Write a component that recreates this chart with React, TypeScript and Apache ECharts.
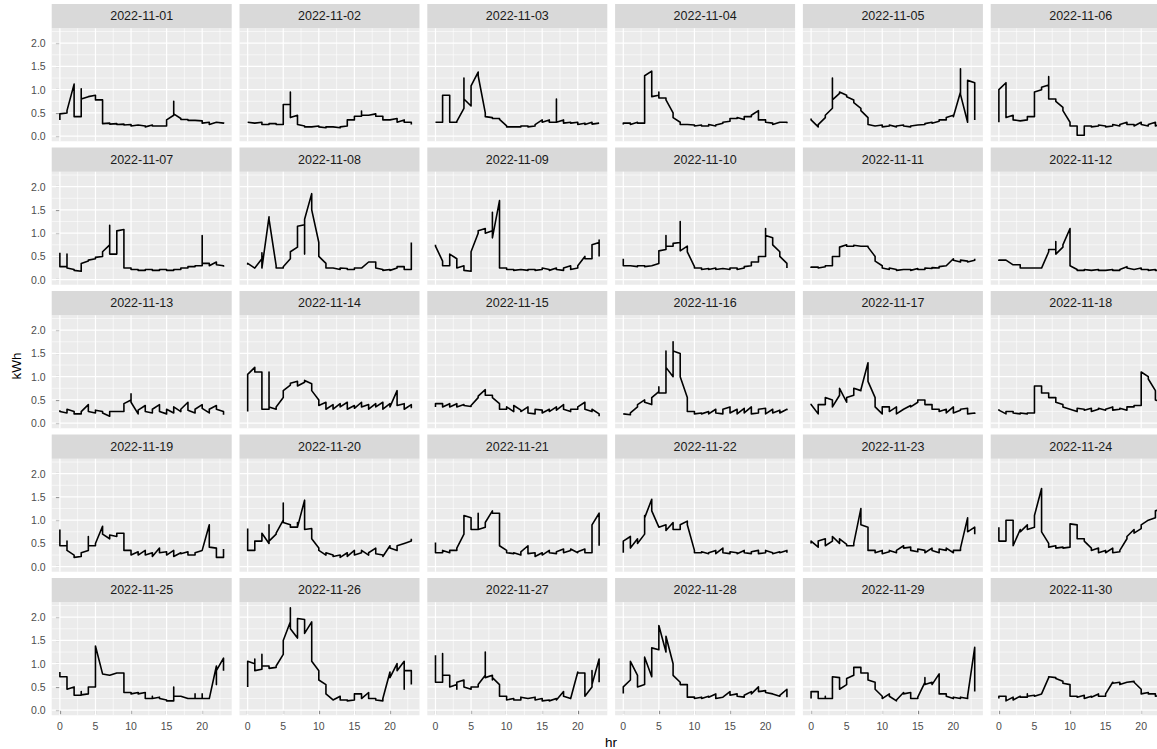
import React, { useEffect, useRef } from "react";
import * as echarts from "echarts";

// ---------- data ----------
const dates = [
  "2022-11-01", "2022-11-02", "2022-11-03", "2022-11-04", "2022-11-05", "2022-11-06",
  "2022-11-07", "2022-11-08", "2022-11-09", "2022-11-10", "2022-11-11", "2022-11-12",
  "2022-11-13", "2022-11-14", "2022-11-15", "2022-11-16", "2022-11-17", "2022-11-18",
  "2022-11-19", "2022-11-20", "2022-11-21", "2022-11-22", "2022-11-23", "2022-11-24",
  "2022-11-25", "2022-11-26", "2022-11-27", "2022-11-28", "2022-11-29", "2022-11-30",
];
const xTicks = [0, 5, 10, 15, 20];
const xMinor = [2.5, 7.5, 12.5, 17.5, 22.5];
const yTicks = [0, 0.5, 1, 1.5, 2];
const yMinor = [0.25, 0.75, 1.25, 1.75, 2.25];

// readings per hour (hr 0..23), in the order they were recorded
const d01 = [[0.35,0.48],[0.5,0.55],[1.12,0.42],[0.42,1.02,0.8],[0.85,0.85],[0.88,0.78],[0.78,0.27],[0.28,0.26],[0.27,0.25],[0.26,0.24],[0.25,0.22],[0.24,0.25],[0.22,0.2],[0.24,0.22],[0.22,0.22],[0.22,0.35],[0.45,0.75,0.48],[0.38,0.36],[0.36,0.34],[0.34,0.33],[0.33,0.28],[0.3,0.25],[0.3,0.3],[0.28,0.3]];
const d02 = [[0.3,0.3],[0.28,0.27],[0.3,0.25],[0.25,0.27],[0.27,0.25],[0.25,0.65,0.68],[0.68,0.95,0.4],[0.45,0.25],[0.22,0.2],[0.2,0.2],[0.22,0.2],[0.18,0.2],[0.2,0.2],[0.18,0.2],[0.22,0.35],[0.35,0.43],[0.43,0.54,0.45],[0.45,0.45],[0.48,0.43],[0.43,0.35],[0.35,0.35],[0.38,0.3],[0.35,0.3],[0.3,0.25]];
const d03 = [[0.3,0.3],[0.3,0.88],[0.88,0.3],[0.3,0.32],[0.6,1.25,0.8],[0.65,1.08],[1.38,1.3],[0.5,0.42],[0.4,0.38],[0.38,0.36],[0.22,0.2],[0.2,0.2],[0.2,0.22],[0.22,0.2],[0.22,0.25],[0.35,0.3],[0.35,0.3],[0.3,0.8,0.3],[0.35,0.28],[0.3,0.28],[0.3,0.25],[0.28,0.25],[0.3,0.26],[0.28,0.28]];
const d04 = [[0.25,0.28],[0.28,0.25],[0.3,0.28],[0.28,1.3],[1.4,0.85],[0.88,0.95,0.82],[0.82,0.78],[0.5,0.4],[0.3,0.25],[0.25,0.24],[0.24,0.22],[0.24,0.22],[0.22,0.25],[0.22,0.24],[0.28,0.3],[0.32,0.38],[0.38,0.4],[0.36,0.42],[0.42,0.45],[0.55,0.35],[0.35,0.3],[0.28,0.25],[0.3,0.3],[0.3,0.28]];
const d05 = [[0.38,0.35],[0.2,0.25],[0.4,0.45],[0.6,1.25,0.78],[0.92,0.95],[0.88,0.85],[0.78,0.72],[0.6,0.55],[0.4,0.25],[0.22,0.22],[0.24,0.2],[0.22,0.24],[0.2,0.22],[0.24,0.22],[0.2,0.22],[0.24,0.25],[0.25,0.27],[0.3,0.28],[0.32,0.35],[0.35,0.4],[0.45,0.42],[0.95,1.45,0.9],[0.3,1.2],[1.15,0.35]];
const d06 = [[0.3,1.0],[1.15,0.4],[0.45,0.35],[0.33,0.33],[0.35,0.42],[0.42,0.95],[1.0,1.05],[1.1,1.28,0.8],[0.8,0.75],[0.62,0.55],[0.3,0.22],[0.22,0.02],[0.02,0.22],[0.22,0.2],[0.22,0.24],[0.22,0.2],[0.22,0.25],[0.22,0.25],[0.3,0.25],[0.25,0.22],[0.3,0.25],[0.22,0.25],[0.3,0.22],[0.28,0.3]];
const d07 = [[0.58,0.28],[0.28,0.55,0.25],[0.22,0.2],[0.18,0.35],[0.4,0.42],[0.45,0.48],[0.5,0.6],[0.75,1.17,0.55],[0.55,1.05],[1.08,0.25],[0.25,0.22],[0.22,0.2],[0.2,0.22],[0.22,0.2],[0.2,0.22],[0.22,0.2],[0.2,0.22],[0.22,0.25],[0.25,0.28],[0.28,0.3],[0.3,0.95,0.35],[0.35,0.3],[0.38,0.32],[0.3,0.28]];
const d08 = [[0.32,0.35],[0.25,0.25],[0.45,0.58,0.25],[1.35,1.3],[0.3,0.25],[0.25,0.28],[0.45,0.6],[0.7,1.15],[1.18,0.55,1.3],[1.85,1.5],[0.8,0.5],[0.35,0.25],[0.25,0.24],[0.22,0.25],[0.24,0.22],[0.22,0.25],[0.25,0.24],[0.38,0.38],[0.38,0.25],[0.22,0.2],[0.22,0.2],[0.25,0.28],[0.28,0.22],[0.22,0.8]];
const d09 = [[0.75,0.72],[0.4,0.3],[0.3,0.55],[0.45,0.25],[0.3,0.2],[0.18,0.6],[1.0,1.05],[1.1,1.0],[1.05,1.45,0.9],[1.7,0.25],[0.25,0.22],[0.22,0.2],[0.22,0.22],[0.2,0.22],[0.22,0.2],[0.22,0.25],[0.22,0.2],[0.25,0.22],[0.2,0.25],[0.3,0.22],[0.25,0.3],[0.5,0.45],[0.45,0.75],[0.8,0.85,0.5]];
const d10 = [[0.45,0.3],[0.3,0.3],[0.28,0.3],[0.3,0.28],[0.3,0.3],[0.35,0.62],[0.65,0.95,0.72],[0.72,0.78],[0.8,1.25,0.62],[0.72,0.6],[0.28,0.25],[0.25,0.22],[0.24,0.22],[0.25,0.22],[0.24,0.24],[0.22,0.25],[0.25,0.22],[0.25,0.28],[0.3,0.38],[0.38,0.5],[0.5,1.1,0.95],[0.9,0.75],[0.6,0.5],[0.35,0.25]];
const d11 = [[0.25,0.27],[0.27,0.25],[0.28,0.3],[0.3,0.5],[0.5,0.7],[0.75,0.72],[0.72,0.74],[0.72,0.72],[0.72,0.7],[0.5,0.4],[0.3,0.25],[0.22,0.25],[0.22,0.2],[0.22,0.22],[0.22,0.2],[0.24,0.22],[0.22,0.25],[0.24,0.26],[0.25,0.28],[0.3,0.3],[0.45,0.42],[0.38,0.42],[0.4,0.38],[0.42,0.45]];
const d12 = [[0.4,0.42],[0.42,0.42],[0.32,0.32],[0.32,0.25],[0.25,0.25],[0.25,0.24],[0.25,0.25],[0.6,0.65],[0.65,0.82,0.55],[0.7,0.75],[1.1,0.3],[0.22,0.2],[0.2,0.22],[0.2,0.2],[0.22,0.2],[0.2,0.2],[0.22,0.2],[0.2,0.22],[0.28,0.25],[0.22,0.22],[0.25,0.22],[0.22,0.2],[0.22,0.2],[0.2,0.22]];
const d13 = [[0.28,0.25],[0.22,0.3],[0.25,0.2],[0.2,0.25],[0.4,0.25],[0.22,0.28],[0.25,0.22],[0.15,0.25],[0.25,0.25],[0.25,0.42],[0.5,0.63,0.45],[0.2,0.28],[0.38,0.25],[0.22,0.3],[0.4,0.25],[0.2,0.3],[0.22,0.35],[0.25,0.3],[0.45,0.28],[0.22,0.3],[0.4,0.32],[0.22,0.3],[0.38,0.3],[0.25,0.18]];
const d14 = [[0.25,1.05],[1.2,1.1],[1.1,0.3],[0.3,1.1,0.35],[0.3,0.35],[0.55,0.7],[0.82,0.86],[0.9,0.8],[0.88,0.92],[0.85,0.7],[0.5,0.38],[0.45,0.3],[0.4,0.3],[0.42,0.35],[0.45,0.3],[0.38,0.32],[0.45,0.35],[0.4,0.3],[0.42,0.35],[0.45,0.3],[0.42,0.35],[0.7,0.38],[0.42,0.3],[0.4,0.32]];
const d15 = [[0.35,0.42],[0.42,0.35],[0.42,0.35],[0.42,0.35],[0.4,0.38],[0.36,0.38],[0.55,0.58],[0.72,0.6],[0.6,0.55],[0.42,0.3],[0.3,0.35],[0.25,0.38],[0.28,0.25],[0.35,0.22],[0.2,0.3],[0.28,0.22],[0.3,0.25],[0.35,0.28],[0.4,0.3],[0.25,0.3],[0.3,0.35],[0.45,0.3],[0.25,0.3],[0.2,0.15]];
const d16 = [[0.2,0.2],[0.18,0.22],[0.35,0.4],[0.5,0.45],[0.4,0.55],[0.68,0.78,0.65],[0.65,1.55,1.2],[1.0,1.75,1.55],[1.5,1.0],[0.55,0.25],[0.25,0.2],[0.22,0.2],[0.25,0.2],[0.3,0.22],[0.2,0.3],[0.35,0.22],[0.3,0.2],[0.32,0.22],[0.35,0.2],[0.22,0.3],[0.32,0.2],[0.3,0.22],[0.28,0.22],[0.3,0.28]];
const d17 = [[0.42,0.4],[0.2,0.4],[0.4,0.55],[0.5,0.35],[0.6,0.75],[0.45,0.55],[0.6,0.75],[0.7,0.72],[1.3,0.9],[0.55,0.35],[0.2,0.35],[0.35,0.25],[0.35,0.2],[0.3,0.3],[0.38,0.35],[0.45,0.5],[0.5,0.4],[0.4,0.3],[0.3,0.25],[0.3,0.22],[0.35,0.22],[0.28,0.3],[0.32,0.2],[0.22,0.2]];
const d18 = [[0.3,0.28],[0.2,0.25],[0.25,0.22],[0.2,0.22],[0.2,0.22],[0.22,0.8],[0.8,0.65],[0.65,0.55],[0.55,0.45],[0.4,0.35],[0.3,0.3],[0.25,0.32],[0.3,0.28],[0.32,0.25],[0.3,0.32],[0.28,0.3],[0.35,0.28],[0.3,0.32],[0.28,0.35],[0.35,0.38],[0.38,1.1],[1.0,0.95],[0.7,0.5],[0.45,0.4]];
const d19 = [[0.8,0.45],[0.45,0.55,0.35],[0.25,0.2],[0.22,0.3],[0.35,0.65,0.45],[0.45,0.5],[0.87,0.7],[0.6,0.68],[0.65,0.72],[0.72,0.35],[0.35,0.25],[0.32,0.25],[0.35,0.25],[0.3,0.22],[0.4,0.3],[0.32,0.25],[0.35,0.22],[0.3,0.28],[0.32,0.25],[0.25,0.3],[0.35,0.35],[0.9,0.42],[0.4,0.2],[0.2,0.38]];
const d20 = [[0.82,0.35],[0.35,0.55],[0.55,0.72],[0.5,0.9,0.55],[0.7,0.72],[1.0,1.37,0.95],[0.9,0.85],[0.85,0.95,0.85],[1.43,0.8],[0.82,0.6],[0.4,0.35],[0.25,0.3],[0.25,0.22],[0.25,0.2],[0.3,0.22],[0.35,0.25],[0.3,0.35],[0.25,0.3],[0.4,0.28],[0.25,0.22],[0.45,0.4],[0.35,0.45],[0.5,0.5],[0.55,0.6]];
const d21 = [[0.52,0.3],[0.3,0.35],[0.3,0.35],[0.35,0.4],[0.7,1.1],[1.05,0.8],[0.8,1.15,0.8],[0.85,0.95],[1.2,1.15],[1.15,0.45],[0.35,0.3],[0.28,0.3],[0.25,0.32],[0.45,0.28],[0.3,0.22],[0.3,0.25],[0.35,0.3],[0.28,0.32],[0.38,0.3],[0.35,0.38],[0.3,0.32],[0.38,0.3],[0.3,0.9],[1.15,0.45]];
const d22 = [[0.3,0.55],[0.65,0.4],[0.6,0.5],[0.7,1.1,1.05],[1.45,1.2],[0.85,0.85],[0.9,0.78],[0.95,0.8],[0.8,0.9],[0.98,0.9],[0.35,0.3],[0.3,0.32],[0.28,0.3],[0.35,0.28],[0.4,0.3],[0.28,0.32],[0.3,0.28],[0.35,0.3],[0.28,0.32],[0.35,0.28],[0.3,0.35],[0.3,0.28],[0.32,0.3],[0.35,0.3]];
const d23 = [[0.5,0.55],[0.42,0.55],[0.6,0.45],[0.55,0.65],[0.5,0.6],[0.48,0.45],[0.45,0.5],[1.25,0.9],[0.85,0.35],[0.35,0.3],[0.35,0.28],[0.32,0.35],[0.3,0.35],[0.45,0.4],[0.42,0.35],[0.32,0.38],[0.35,0.3],[0.4,0.35],[0.3,0.38],[0.35,0.4],[0.3,0.35],[0.35,0.4],[1.05,0.75],[0.85,0.7]];
const d24 = [[0.85,0.55],[0.55,1.0],[1.0,0.45],[0.8,0.75],[0.9,0.8],[0.85,1.1],[1.68,0.75],[0.5,0.42],[0.45,0.4],[0.42,0.4],[0.42,0.92],[0.9,0.6],[0.6,0.55],[0.4,0.35],[0.4,0.3],[0.35,0.3],[0.4,0.3],[0.32,0.35],[0.6,0.65],[0.8,0.72],[0.82,0.9],[1.0,1.0],[1.05,1.2],[1.25,1.2]];
const d25 = [[0.82,0.72],[0.72,0.45],[0.5,0.32],[0.32,0.4,0.33],[0.35,0.5],[0.5,1.38],[0.78,0.78],[0.75,0.75],[0.8,0.8],[0.8,0.38],[0.38,0.35],[0.38,0.35],[0.38,0.25],[0.25,0.3,0.25],[0.28,0.25],[0.22,0.2],[0.2,0.5,0.3],[0.3,0.3],[0.25,0.25],[0.25,0.35,0.25],[0.25,0.35,0.25],[0.25,0.25],[0.95,0.55,0.85],[1.12,0.85]];
const d26 = [[0.5,1.05],[1.0,1.1,0.85],[0.88,1.2,0.95],[0.95,0.9],[0.92,0.95],[1.2,1.5],[1.9,2.2,1.75],[1.55,1.97],[1.95,1.65],[1.9,1.05],[0.85,0.65],[0.55,0.35],[0.22,0.22],[0.3,0.22],[0.22,0.2],[0.22,0.35],[0.35,0.25],[0.38,0.25],[0.25,0.22],[0.2,0.25],[0.82,0.7],[1.0,0.85],[1.05,0.45,0.85],[0.85,0.55]];
const d27 = [[1.18,0.6],[0.6,1.22,0.75],[0.75,0.5],[0.55,0.45,0.6],[0.65,0.5],[0.45,0.5],[0.5,0.55],[0.75,1.25,0.7],[0.75,0.65,0.7],[0.55,0.3],[0.3,0.22],[0.25,0.22],[0.22,0.28],[0.25,0.25],[0.28,0.22],[0.25,0.2],[0.22,0.2],[0.25,0.22],[0.4,0.3],[0.25,0.25],[0.82,0.8],[0.8,0.3],[0.5,0.85,0.55],[1.1,0.6]];
const d28 = [[0.36,0.5],[0.65,1.05],[0.75,0.5],[0.55,1.14],[0.72,1.34],[1.3,1.82],[1.25,1.59],[1.0,0.75],[0.6,0.55],[0.55,0.28],[0.28,0.25],[0.28,0.25],[0.3,0.28],[0.35,0.25],[0.28,0.28],[0.4,0.32],[0.35,0.3],[0.28,0.32],[0.4,0.35],[0.5,0.4],[0.42,0.38],[0.35,0.35],[0.3,0.32],[0.45,0.28]];
const d29 = [[0.25,0.4],[0.4,0.25],[0.25,0.3,0.25],[0.25,0.72],[0.7,0.45],[0.55,0.68],[0.75,0.92],[0.92,0.8],[0.8,0.65],[0.6,0.45],[0.3,0.25],[0.35,0.3],[0.2,0.22],[0.38,0.35],[0.38,0.25],[0.25,0.28],[0.6,0.7,0.55],[0.6,0.55],[0.78,0.35],[0.35,0.3],[0.25,0.28],[0.25,0.28],[0.25,0.3],[1.35,0.4]];
const d30 = [[0.25,0.3],[0.3,0.2],[0.28,0.22],[0.3,0.28],[0.28,0.35,0.3],[0.32,0.3],[0.35,0.35],[0.7,0.72],[0.7,0.68],[0.62,0.58],[0.55,0.3],[0.3,0.28],[0.32,0.25],[0.3,0.28],[0.35,0.3],[0.3,0.35],[0.6,0.58],[0.6,0.55],[0.6,0.6],[0.62,0.6],[0.45,0.35],[0.38,0.35],[0.35,0.3],[0.32,0.3]];

const days = [d01,d02,d03,d04,d05,d06,d07,d08,d09,d10,d11,d12,d13,d14,d15,d16,d17,d18,d19,d20,d21,d22,d23,d24,d25,d26,d27,d28,d29,d30];

// ---------- layout ----------
const CHART_W = 1190;
const CHART_H = 749;
const NCOL = 6;
const COL0 = 51.7;
const COL_PITCH = 187.8;
const PANEL_W = 180;
const ROW0 = 4;
const ROW_PITCH = 143.5;
const STRIP_H = 24.3;
const PANEL_H = 113;
const X_MIN = -1.15, X_MAX = 24.15;
const Y_MIN = -0.11, Y_MAX = 2.32;
const FONT = "'Liberation Sans', Arial, Helvetica, sans-serif";

function buildOption() {
  const grid: any[] = [];
  const xAxis: any[] = [];
  const yAxis: any[] = [];
  const series: any[] = [];
  const graphic: any[] = [];
  const nRows = Math.ceil(days.length / NCOL);

  days.forEach((day, i) => {
    const r = Math.floor(i / NCOL);
    const c = i % NCOL;
    const left = COL0 + c * COL_PITCH;
    const stripTop = ROW0 + r * ROW_PITCH;
    const top = stripTop + STRIP_H;
    const isLeft = c === 0;
    const isBottom = r === nRows - 1;

    grid.push({
      left, top, width: PANEL_W, height: PANEL_H,
      show: true, backgroundColor: "#EBEBEB", borderWidth: 0, borderColor: "transparent",
    });
    xAxis.push({
      type: "value", gridIndex: i, min: X_MIN, max: X_MAX,
      splitLine: { show: false }, axisLine: { show: false },
      axisTick: { show: isBottom, customValues: xTicks, length: 4, lineStyle: { color: "#333333", width: 1.1 } },
      axisLabel: {
        show: isBottom, customValues: xTicks, color: "#4D4D4D", fontSize: 10.5, fontFamily: FONT, margin: 5,
        formatter: (v: number) => (xTicks.includes(v) ? String(v) : ""),
      },
    });
    yAxis.push({
      type: "value", gridIndex: i, min: Y_MIN, max: Y_MAX,
      splitLine: { show: false }, axisLine: { show: false },
      axisTick: { show: isLeft, customValues: yTicks, length: 4, lineStyle: { color: "#333333", width: 1.1 } },
      axisLabel: {
        show: isLeft, customValues: yTicks, color: "#4D4D4D", fontSize: 10.5, fontFamily: FONT, margin: 6,
        formatter: (v: number) => (yTicks.includes(v) ? v.toFixed(1) : ""),
      },
    });

    // panel grid lines, placed through the axes' own scales
    series.push({
      type: "custom", xAxisIndex: i, yAxisIndex: i, z: 1, silent: true, clip: false,
      data: [[0, 0]],
      renderItem: (_p: any, api: any) => {
        const children: any[] = [];
        const pb = api.coord([X_MIN, Y_MIN]);
        const pt = api.coord([X_MAX, Y_MAX]);
        const vline = (v: number, w: number) => {
          const p = api.coord([v, 0]);
          children.push({ type: "line", shape: { x1: p[0], y1: pt[1], x2: p[0], y2: pb[1] }, style: { stroke: "#FFFFFF", lineWidth: w } });
        };
        const hline = (v: number, w: number) => {
          const p = api.coord([0, v]);
          children.push({ type: "line", shape: { x1: pb[0], y1: p[1], x2: pt[0], y2: p[1] }, style: { stroke: "#FFFFFF", lineWidth: w } });
        };
        xMinor.forEach((v) => vline(v, 0.6));
        yMinor.forEach((v) => hline(v, 0.6));
        xTicks.forEach((v) => vline(v, 1.2));
        yTicks.forEach((v) => hline(v, 1.2));
        return { type: "group", children };
      },
    });

    const pts: number[][] = [];
    day.forEach((vals, h) => vals.forEach((v) => pts.push([h, v])));
    series.push({
      type: "line", xAxisIndex: i, yAxisIndex: i, z: 5, silent: true,
      data: pts, symbol: "none", showSymbol: false,
      lineStyle: { color: "#000000", width: 1.6, join: "round" },
    });

    graphic.push({
      type: "rect", silent: true,
      shape: { x: left, y: stripTop, width: PANEL_W, height: STRIP_H },
      style: { fill: "#D9D9D9" },
    });
    graphic.push({
      type: "text", silent: true,
      x: left + PANEL_W / 2, y: stripTop + STRIP_H / 2,
      style: { text: dates[i], fill: "#1A1A1A", font: `12.5px ${FONT}`, textAlign: "center", textVerticalAlign: "middle" },
    });
  });

  graphic.push({
    type: "text", silent: true, x: 611, y: 742,
    style: { text: "hr", fill: "#000000", font: `13.5px ${FONT}`, textAlign: "center", textVerticalAlign: "middle" },
  });
  graphic.push({
    type: "text", silent: true, x: 16, y: 366, rotation: Math.PI / 2,
    style: { text: "kWh", fill: "#000000", font: `13.5px ${FONT}`, textAlign: "center", textVerticalAlign: "middle" },
  });

  return {
    animation: false,
    backgroundColor: "#FFFFFF",
    textStyle: { fontFamily: FONT },
    grid, xAxis, yAxis, series, graphic,
  };
}

export default function App() {
  const ref = useRef<HTMLDivElement>(null);
  useEffect(() => {
    if (!ref.current) return;
    const chart = echarts.init(ref.current, undefined, { renderer: "svg" });
    chart.setOption(buildOption() as any);
    return () => chart.dispose();
  }, []);
  return (
    <div
      ref={ref}
      style={{ position: "fixed", left: 0, top: 0, width: CHART_W, height: CHART_H, background: "#fff" }}
    />
  );
}
